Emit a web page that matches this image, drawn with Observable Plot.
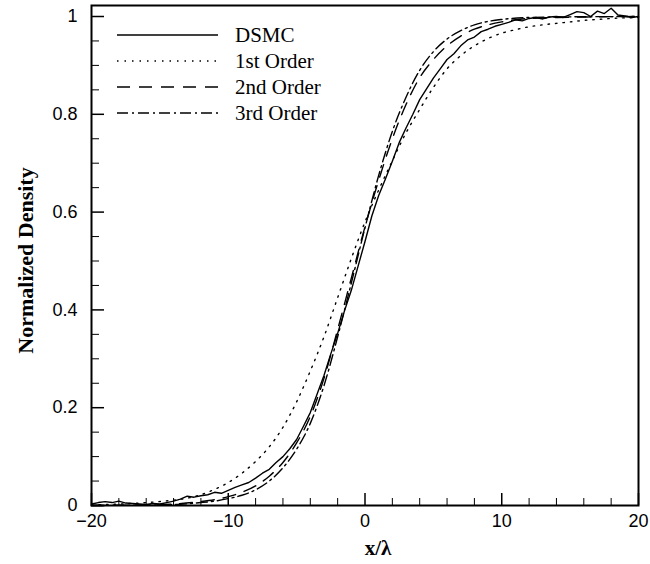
<!DOCTYPE html>
<html><head><meta charset="utf-8">
<script src="https://cdn.jsdelivr.net/npm/d3@7"></script>
<script src="https://cdn.jsdelivr.net/npm/@observablehq/plot@0.6"></script>
<style>body{margin:0;background:#fff}</style>
</head><body><div id="chart"></div>
<script>
// ---- tick labels ----
const xTicks = [-20, -10, 0, 10, 20];
const yTicks = [0, 0.2, 0.4, 0.6, 0.8, 1];
const xMinor = [-18, -16, -14, -12, -8, -6, -4, -2, 2, 4, 6, 8, 12, 14, 16, 18];
const yMinor = [0.05, 0.1, 0.15, 0.25, 0.3, 0.35, 0.45, 0.5, 0.55, 0.65, 0.7, 0.75, 0.85, 0.9, 0.95];

// ---- series ----
const seriesNames = ["DSMC", "1st Order", "2nd Order", "3rd Order"];

const dsmcX = [-20,-19.5,-19,-18.5,-18,-17.5,-17,-16.5,-16,-15.5,-15,-14.5,-14,-13.5,-13,-12.5,-12,-11.5,-11,-10.5,-10,-9.5,-9,-8.5,-8,-7.5,-7,-6.5,-6,-5.5,-5,-4.5,-4,-3.5,-3,-2.5,-2,-1.5,-1,-0.5,0,0.5,1,1.5,2,2.5,3,3.5,4,4.5,5,5.5,6,6.5,7,7.5,8,8.5,9,9.5,10,10.5,11,11.5,12,12.5,13,13.5,14,14.5,15,15.5,16,16.5,17,17.5,18,18.5,19,19.5,20];
const dsmcY = [0.003,0.006,0.008,0.006,0.009,0.005,0.004,0.003,0.002,0.004,0.003,0.006,0.009,0.013,0.019,0.017,0.02,0.022,0.027,0.025,0.031,0.037,0.042,0.047,0.056,0.066,0.074,0.088,0.1,0.116,0.135,0.162,0.19,0.228,0.266,0.31,0.352,0.398,0.44,0.49,0.54,0.592,0.634,0.668,0.704,0.742,0.772,0.8,0.83,0.852,0.874,0.893,0.912,0.924,0.94,0.952,0.958,0.969,0.974,0.98,0.984,0.988,0.993,0.991,0.996,0.998,0.995,0.999,1.0,0.998,1.004,1.01,1.008,1.0,1.011,1.006,1.017,1.003,1.001,0.998,1.0];

const firstX = [-20,-18,-16,-14,-13,-12,-11,-10,-9,-8,-7,-6,-5,-4,-3,-2,-1,0,1,2,3,4,5,6,7,8,9,10,11,12,13,14,15,16,17,18,20];
const firstY = [0.001,0.003,0.006,0.011,0.015,0.022,0.033,0.047,0.066,0.09,0.12,0.16,0.212,0.275,0.345,0.425,0.505,0.58,0.645,0.705,0.762,0.81,0.855,0.893,0.92,0.94,0.955,0.966,0.973,0.979,0.983,0.986,0.989,0.992,0.994,0.996,0.998];

const secondX = [-20,-16,-14,-12,-11,-10,-9,-8,-7,-6,-5,-4,-3,-2,-1,0,1,2,3,4,5,6,7,8,9,10,12,14,16,20];
const secondY = [0,0.001,0.003,0.008,0.012,0.018,0.027,0.04,0.06,0.088,0.128,0.182,0.26,0.36,0.465,0.57,0.665,0.75,0.82,0.875,0.912,0.94,0.96,0.974,0.983,0.989,0.996,0.998,0.999,1.0];

const thirdX = [-20,-14,-12,-11,-10,-9,-8,-7,-6,-5,-4,-3,-2,-1,0,1,2,3,4,5,6,7,8,9,10,12,14,20];
const thirdY = [0,0.002,0.006,0.009,0.014,0.021,0.032,0.05,0.077,0.115,0.168,0.245,0.345,0.455,0.568,0.675,0.765,0.835,0.89,0.928,0.954,0.971,0.983,0.99,0.994,0.998,0.999,1.0];

const styles = {
  "DSMC": null,
  "1st Order": "1.5 6",
  "2nd Order": "13 9",
  "3rd Order": "11 4 2 4"
};

const toRows = (xs, ys, name) => xs.map((x, i) => ({x, y: ys[i], s: name}));
const series = [
  toRows(dsmcX, dsmcY, "DSMC"),
  toRows(firstX, firstY, "1st Order"),
  toRows(secondX, secondY, "2nd Order"),
  toRows(thirdX, thirdY, "3rd Order")
];

const W = 650, H = 564;
const mTop = 5, mBottom = 59, mLeft = 91, mRight = 12;
const plotH = H - mTop - mBottom, plotW = W - mLeft - mRight;
const serif = "'Liberation Serif', 'Times New Roman', serif";

const lineMarks = series.map((rows, i) => Plot.line(rows, {
  x: "x", y: "y", stroke: "black", strokeWidth: 1.4,
  strokeDasharray: styles[seriesNames[i]] || undefined,
  curve: i === 0 ? "linear" : "monotone-x"
}));

const chart = Plot.plot({
  width: W, height: H,
  marginTop: mTop, marginBottom: mBottom, marginLeft: mLeft, marginRight: mRight,
  style: {fontFamily: "'Liberation Sans', Arial, sans-serif", fontSize: "18px", color: "black", background: "white"},
  x: {domain: [-20, 20]},
  y: {domain: [0, 1.0225]},
  marks: [
    ...lineMarks,
    Plot.tickX(xTicks, {x: d => d, stroke: "black", strokeWidth: 1.5, insetTop: plotH - 12}),
    Plot.tickX(xMinor, {x: d => d, stroke: "black", strokeWidth: 1, insetTop: plotH - 7}),
    Plot.tickY(yTicks, {y: d => d, stroke: "black", strokeWidth: 1.5, insetRight: plotW - 13}),
    Plot.tickY(yMinor, {y: d => d, stroke: "black", strokeWidth: 1, insetRight: plotW - 8}),
    Plot.axisX(xTicks, {tickSize: 0, tickPadding: 9, label: null, fontSize: 18}),
    Plot.axisY(yTicks, {tickSize: 0, tickPadding: 14, label: null, fontSize: 18, tickFormat: d => String(d)}),
    Plot.frame({stroke: "black", strokeWidth: 2}),
    Plot.text(["x/λ"], {text: d => d, frameAnchor: "bottom", lineAnchor: "middle", textAnchor: "middle",
      dy: 43, dx: 13, fontFamily: serif, fontWeight: "bold", fontSize: 21}),
    Plot.text(["Normalized Density"], {text: d => d, frameAnchor: "left", textAnchor: "middle", lineAnchor: "middle",
      dx: -66, dy: 5, rotate: -90, fontFamily: serif, fontWeight: "bold", fontSize: 22})
  ]
});

document.getElementById("chart").appendChild(chart);

// ---- legend (inside plot, top-left) ----
const svg = d3.select(chart);
const lg = svg.append("g").attr("class", "legend");
const rowY = [35, 61, 87, 113];
seriesNames.forEach((name, i) => {
  lg.append("line")
    .attr("x1", 117).attr("x2", 218)
    .attr("y1", rowY[i]).attr("y2", rowY[i])
    .attr("stroke", "black").attr("stroke-width", 1.4)
    .attr("stroke-dasharray", styles[name] || null);
  lg.append("text")
    .attr("x", 235).attr("y", rowY[i])
    .attr("dy", "0.35em")
    .style("text-anchor", "start")
    .style("font-family", serif)
    .style("font-size", "21px")
    .style("fill", "black")
    .text(name);
});
</script></body></html>
